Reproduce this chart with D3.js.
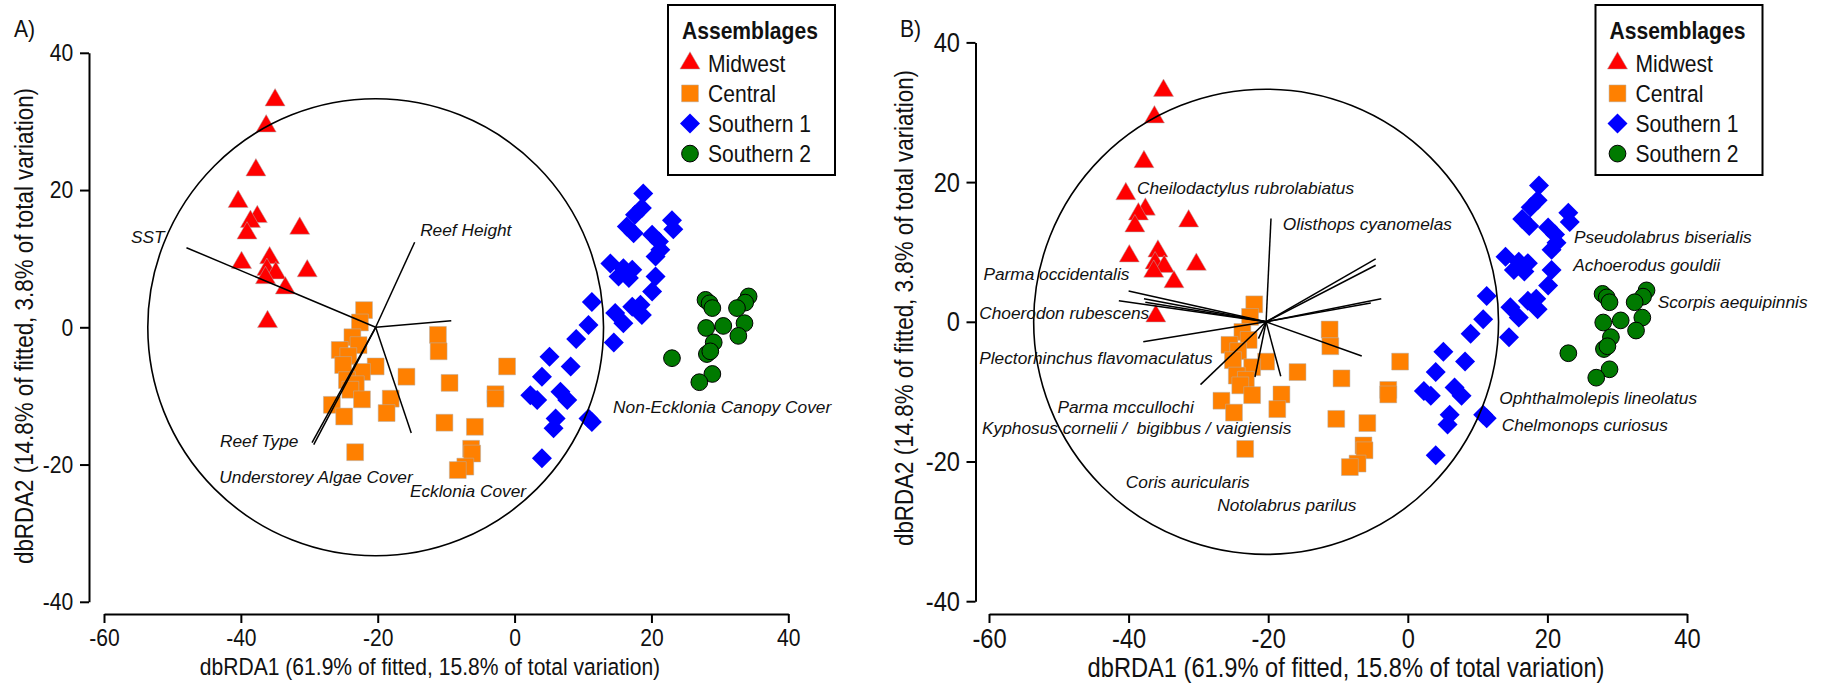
<!DOCTYPE html>
<html>
<head>
<meta charset="utf-8">
<script src="https://cdn.jsdelivr.net/npm/d3@7"></script>
<style>
  body { margin: 0; background: #ffffff; }
  svg { display: block; font-family: "Liberation Sans", Arial, Helvetica, sans-serif; }
  .sp { white-space: pre; }
</style>
</head>
<body>
<svg id="chart" width="1824" height="684"></svg>
<script>
// ---- dbRDA sample scores (axis 1, axis 2) by assemblage ----
const assemblages = ["Midwest", "Central", "Southern 1", "Southern 2"];

const midwest = [
  [-35.0, 33.1], [-36.3, 29.3], [-37.8, 22.9], [-40.4, 18.3], [-37.6, 16.1], [-38.6, 15.4],
  [-39.1, 13.7], [-31.4, 14.4], [-39.9, 9.4], [-35.8, 10.1], [-30.3, 8.2], [-36.2, 8.4],
  [-34.9, 7.9], [-36.4, 7.2], [-33.5, 5.7], [-36.1, 0.8]
];

const central = [
  [-22.0, 2.5], [-22.6, 0.7], [-23.7, -1.45], [-25.55, -3.3], [-22.8, -2.6], [-24.3, -4.2],
  [-25.05, -5.5], [-20.3, -5.7], [-22.3, -6.5], [-24.5, -7.7], [-23.2, -8.3], [-24.0, -9.1],
  [-22.3, -10.5], [-26.7, -11.3], [-24.9, -13.0], [-18.1, -10.4], [-18.7, -12.5], [-15.8, -7.2],
  [-23.3, -18.2], [-11.2, -1.1], [-11.1, -3.5], [-9.5, -8.1], [-1.1, -5.7], [-2.8, -9.75],
  [-2.8, -10.4], [-10.25, -13.9], [-5.8, -14.5], [-6.35, -17.7], [-6.2, -18.4], [-7.2, -20.3],
  [-8.3, -20.8]
];

const southern1 = [
  [18.8, 19.5], [18.6, 17.4], [17.6, 16.4], [16.4, 14.7], [17.4, 13.7], [23.0, 15.6],
  [23.2, 14.3], [20.1, 13.5], [21.1, 12.5], [21.3, 11.3], [20.6, 10.3], [14.0, 9.3],
  [15.9, 8.6], [17.2, 8.4], [15.2, 7.4], [16.7, 7.2], [20.6, 7.4], [20.1, 5.2],
  [11.3, 3.7], [18.4, 3.3], [14.7, 2.1], [15.9, 0.6], [18.6, 1.8], [17.2, 3.0],
  [10.8, 0.35], [14.5, -2.2], [9.0, -1.7], [5.1, -4.3], [8.2, -5.7], [4.0, -7.2],
  [2.3, -9.9], [3.3, -10.6], [6.7, -9.4], [7.7, -10.6], [6.0, -13.3], [5.7, -14.7],
  [10.8, -13.3], [11.3, -13.8], [4.0, -19.1]
];

const southern2 = [
  [27.9, 4.0], [28.5, 3.5], [28.9, 2.8], [34.2, 4.5], [33.7, 3.6], [32.5, 2.8],
  [28.0, -0.1], [30.5, 0.2], [33.6, 0.6], [32.7, -1.25], [29.1, -2.2], [28.1, -3.9],
  [28.6, -3.5], [23.0, -4.5], [28.9, -6.8], [27.0, -8.0]
];

// ---- axes ----
const xTicks = [-60, -40, -20, 0, 20, 40];
const yTicks = [-40, -20, 0, 20, 40];
const xTitle = "dbRDA1 (61.9% of fitted, 15.8% of total variation)";
const yTitle = "dbRDA2 (14.8% of fitted, 3.8% of total variation)";

// vector origin and correlation circle radius, in axis units
const vectorOrigin = [-20.3, 0];
const circleRadius = 33.3;

// ---- predictor vectors (panel A) ----
const envTips = [
  [-47.95, 11.6], [-14.6, 12.4], [-9.25, 0.95], [-15.1, -15.4], [-29.6, -16.8], [-29.35, -17.1]
];
const envNames = [
  "SST", "Reef Height", "Non-Ecklonia Canopy Cover", "Ecklonia Cover",
  "Reef Type", "Understorey Algae Cover"
];
const envLabelAt = [
  [-56.05, 12.28], [-13.8, 13.3], [14.4, -12.45], [-15.3, -24.7], [-43.05, -17.5], [-43.15, -22.7]
];

// ---- species vectors (panel B) ----
const spTips = [
  [-19.6, 14.8], [-4.6, 9.0], [-4.6, 8.1], [-3.8, 3.3], [-5.3, 2.7], [-6.6, -4.9],
  [-40.0, 4.4], [-41.4, 3.0], [-37.8, 3.3], [-37.6, 2.8], [-37.9, -2.85],
  [-29.7, -9.0], [-21.9, -7.9], [-18.2, -7.8], [-21.4, -2.4]
];
const spNames = [
  "Cheilodactylus rubrolabiatus", "Olisthops cyanomelas", "Parma occidentalis",
  "Choerodon rubescens", "Plectorhinchus flavomaculatus", "Parma mccullochi",
  "Kyphosus cornelii /  bigibbus / vaigiensis", "Coris auricularis", "Notolabrus parilus",
  "Pseudolabrus biserialis", "Achoerodus gouldii", "Scorpis aequipinnis",
  "Ophthalmolepis lineolatus", "Chelmonops curiosus"
];
const spLabelAt = [
  [-38.8, 18.35], [-17.9, 13.2], [-60.8, 6.0], [-61.4, 0.43], [-61.4, -6.0], [-50.2, -13.0],
  [-61.0, -16.1], [-40.4, -23.8], [-27.3, -27.1], [23.8, 11.35], [23.7, 7.3], [35.8, 1.95],
  [13.1, -11.8], [13.45, -15.7]
];

// ---- styling ----
const FONT = '"Liberation Sans", Arial, Helvetica, sans-serif';
const colours = ["#ff0000", "#ff8000", "#0000ff", "#007a00"];
const markers = [
  { d: d3.symbol(d3.symbolTriangle, 175)(), rot: "", stroke: "#b0b0b0", sw: 0.5 },
  { d: d3.symbol(d3.symbolSquare, 285)(), rot: "", stroke: "#b0b0b0", sw: 0.5 },
  { d: d3.symbol(d3.symbolSquare, 200)(), rot: " rotate(45)", stroke: "none", sw: 0 },
  { d: d3.symbol(d3.symbolCircle, 220)(), rot: "", stroke: "#000000", sw: 1 }
];
const sampleSets = [midwest, central, southern1, southern2];

const svg = d3.select("#chart");

// narrow the glyphs horizontally (condensed sans look)
function condense(sel, k) {
  sel.each(function () {
    const w = this.getComputedTextLength();
    if (w > 0) {
      d3.select(this).attr("textLength", (w * k).toFixed(2)).attr("lengthAdjust", "spacingAndGlyphs");
    }
  });
}

const panels = [
  { letter: "A)", x0: 104, x1: 788.3, yTop: 52.8, yBot: 601.8, yAxisX: 89, xAxisY: 614,
    tickFont: 24.5, xTitleFont: 24.5, k: 0.86, xTickBase: 31.8, yTickX: -15.7,
    xTitleX: 430, xTitleY: 675, yTitleX: 33, yTitleY: 326, legendX: 668, letterX: 14,
    tips: envTips, names: envNames, labelAt: envLabelAt },
  { letter: "B)", x0: 989, x1: 1687, yTop: 42.4, yBot: 601.2, yAxisX: 975.5, xAxisY: 614,
    tickFont: 28, xTitleFont: 28, k: 0.845, xTickBase: 34, yTickX: -15.5,
    xTitleX: 1346, xTitleY: 677, yTitleX: 913, yTitleY: 308, legendX: 1595.5, letterX: 900,
    tips: spTips, names: spNames, labelAt: spLabelAt }
];

panels.forEach(p => {
  const g = svg.append("g");
  const x = d3.scaleLinear().domain([-60, 40]).range([p.x0, p.x1]);
  const y = d3.scaleLinear().domain([-40, 40]).range([p.yBot, p.yTop]);

  // sample points
  sampleSets.forEach((pts, i) => {
    const m = markers[i];
    g.append("g").selectAll("path").data(pts).join("path")
      .attr("d", m.d)
      .attr("transform", d => `translate(${x(d[0])},${y(d[1])})${m.rot}`)
      .attr("fill", colours[i])
      .attr("stroke", m.stroke)
      .attr("stroke-width", m.sw);
  });

  // correlation circle
  g.append("ellipse")
    .attr("cx", x(vectorOrigin[0])).attr("cy", y(vectorOrigin[1]))
    .attr("rx", x(vectorOrigin[0] + circleRadius) - x(vectorOrigin[0]))
    .attr("ry", y(vectorOrigin[1]) - y(vectorOrigin[1] + circleRadius))
    .attr("fill", "none").attr("stroke", "#000").attr("stroke-width", 1.6);

  // vectors
  g.append("g").selectAll("line").data(p.tips).join("line")
    .attr("x1", x(vectorOrigin[0])).attr("y1", y(vectorOrigin[1]))
    .attr("x2", d => x(d[0])).attr("y2", d => y(d[1]))
    .attr("stroke", "#000").attr("stroke-width", 1.5);

  // vector labels
  g.append("g").selectAll("text").data(p.names).join("text")
    .attr("class", "sp")
    .attr("x", (d, i) => x(p.labelAt[i][0]))
    .attr("y", (d, i) => y(p.labelAt[i][1]))
    .attr("font-size", 17.3).attr("font-style", "italic").attr("fill", "#111")
    .text(d => d);

  // x axis
  const gx = g.append("g").attr("transform", `translate(0,${p.xAxisY})`)
    .call(d3.axisBottom(x).tickValues(xTicks).tickFormat(d => String(d)).tickSize(9).tickSizeOuter(0));
  gx.attr("font-family", FONT).attr("font-size", p.tickFont);
  gx.select(".domain").attr("stroke-width", 2);
  gx.selectAll(".tick line").attr("stroke-width", 2);
  gx.selectAll(".tick text").attr("y", p.xTickBase).attr("dy", null).attr("fill", "#111");
  condense(gx.selectAll(".tick text"), p.k);

  // y axis
  const gy = g.append("g").attr("transform", `translate(${p.yAxisX},0)`)
    .call(d3.axisLeft(y).tickValues(yTicks).tickFormat(d => String(d)).tickSize(9).tickSizeOuter(0));
  gy.attr("font-family", FONT).attr("font-size", p.tickFont);
  gy.select(".domain").attr("stroke-width", 2);
  gy.selectAll(".tick line").attr("stroke-width", 2);
  gy.selectAll(".tick text").attr("x", p.yTickX).attr("fill", "#111");
  condense(gy.selectAll(".tick text"), p.k);

  // axis titles
  const xt = g.append("text")
    .attr("x", p.xTitleX).attr("y", p.xTitleY)
    .attr("text-anchor", "middle").attr("font-size", p.xTitleFont).attr("fill", "#111")
    .text(xTitle);
  condense(xt, p.k);
  const yt = g.append("text")
    .attr("transform", `translate(${p.yTitleX},${p.yTitleY}) rotate(-90)`)
    .attr("text-anchor", "middle").attr("font-size", 26).attr("fill", "#111")
    .text(yTitle);
  condense(yt, 0.86);

  // panel letter
  const pl = g.append("text").attr("x", p.letterX).attr("y", 37)
    .attr("font-size", 24.5).attr("fill", "#111").text(p.letter);
  condense(pl, 0.86);

  // legend
  const lg = g.append("g").attr("transform", `translate(${p.legendX},5)`);
  lg.append("rect").attr("x", 0).attr("y", 0).attr("width", 167).attr("height", 170)
    .attr("fill", "#fff").attr("stroke", "#000").attr("stroke-width", 2);
  const lt = lg.append("text").attr("x", 14).attr("y", 33.5)
    .attr("font-size", 24.5).attr("font-weight", "bold").attr("fill", "#111").text("Assemblages");
  condense(lt, 0.86);
  const items = lg.selectAll("g.item").data(assemblages).join("g")
    .attr("class", "item")
    .attr("transform", (d, i) => `translate(0,${58.3 + i * 30.1})`);
  items.append("path")
    .attr("d", (d, i) => markers[i].d)
    .attr("transform", (d, i) => `translate(22,0)${markers[i].rot}`)
    .attr("fill", (d, i) => colours[i])
    .attr("stroke", (d, i) => markers[i].stroke)
    .attr("stroke-width", (d, i) => markers[i].sw);
  const it = items.append("text").attr("x", 40).attr("y", 8.8)
    .attr("font-size", 24.5).attr("fill", "#111").text(d => d);
  condense(it, 0.86);
});
</script>
</body>
</html>
